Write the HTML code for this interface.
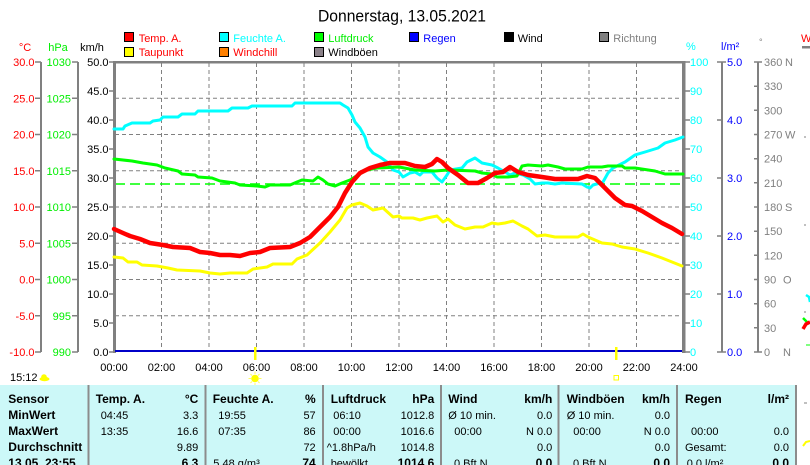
<!DOCTYPE html>
<html><head><meta charset="utf-8">
<style>
html,body{margin:0;padding:0;background:#fff;}
svg{display:block;}
text{font-family:"Liberation Sans",sans-serif;font-size:11px;}
.b{font-weight:bold;font-size:12px;}
</style></head>
<body>
<svg width="810" height="465" viewBox="0 0 810 465" xmlns="http://www.w3.org/2000/svg">
<rect width="810" height="465" fill="#fff"/>

<!-- title -->
<text x="318" y="21.5" font-size="16.5" textLength="168" lengthAdjust="spacingAndGlyphs" style="font-size:16.5px">Donnerstag, 13.05.2021</text>

<!-- legend -->
<g stroke="#000" stroke-width="1">
<rect x="124.5" y="32.5" width="9" height="9" fill="#ff0000"/>
<rect x="124.5" y="47.5" width="9" height="9" fill="#ffff00"/>
<rect x="219.5" y="32.5" width="9" height="9" fill="#00ffff"/>
<rect x="219.5" y="47.5" width="9" height="9" fill="#ff8000"/>
<rect x="314.5" y="32.5" width="9" height="9" fill="#00ff00"/>
<rect x="314.5" y="47.5" width="9" height="9" fill="#8a8088"/>
<rect x="409.5" y="32.5" width="9" height="9" fill="#0000ff"/>
<rect x="504.5" y="32.5" width="9" height="9" fill="#000000"/>
<rect x="599.5" y="32.5" width="9" height="9" fill="#808080"/>
</g>
<text x="138.7" y="42" fill="#ff0000">Temp. A.</text>
<text x="138.7" y="56" fill="#ff0000">Taupunkt</text>
<text x="233.3" y="42" fill="#00ffff">Feuchte A.</text>
<text x="233.3" y="56" fill="#ff0000">Windchill</text>
<text x="328.3" y="42" fill="#00ee00">Luftdruck</text>
<text x="328.3" y="56" fill="#000">Windböen</text>
<text x="423.3" y="42" fill="#0000ff">Regen</text>
<text x="517.7" y="42" fill="#000">Wind</text>
<text x="613.3" y="42" fill="#808080">Richtung</text>

<!-- unit labels -->
<text x="25" y="51" text-anchor="middle" fill="#ff0000">°C</text>
<text x="58" y="51" text-anchor="middle" fill="#00ee00">hPa</text>
<text x="92" y="51" text-anchor="middle" fill="#000">km/h</text>
<text x="686" y="50" fill="#00ffff">%</text>
<text x="721" y="50" fill="#0000ff">l/m²</text>
<text x="759" y="45" fill="#808080" style="font-size:9px">°</text>

<!-- grid -->
<g stroke="#808080" stroke-width="1" stroke-dasharray="4,3">
<line x1="115" y1="98.25" x2="682" y2="98.25"/>
<line x1="115" y1="134.5" x2="682" y2="134.5"/>
<line x1="115" y1="170.75" x2="682" y2="170.75"/>
<line x1="115" y1="207" x2="682" y2="207"/>
<line x1="115" y1="243.25" x2="682" y2="243.25"/>
<line x1="115" y1="279.5" x2="682" y2="279.5"/>
<line x1="115" y1="315.75" x2="682" y2="315.75"/>
<line x1="161.5" y1="63" x2="161.5" y2="352"/>
<line x1="209" y1="63" x2="209" y2="352"/>
<line x1="256.5" y1="63" x2="256.5" y2="352"/>
<line x1="304" y1="63" x2="304" y2="352"/>
<line x1="351.5" y1="63" x2="351.5" y2="352"/>
<line x1="399" y1="63" x2="399" y2="352"/>
<line x1="446.5" y1="63" x2="446.5" y2="352"/>
<line x1="494" y1="63" x2="494" y2="352"/>
<line x1="541.5" y1="63" x2="541.5" y2="352"/>
<line x1="589" y1="63" x2="589" y2="352"/>
<line x1="636.5" y1="63" x2="636.5" y2="352"/>
</g>
<line x1="115" y1="184" x2="682" y2="184" stroke="#00ff00" stroke-width="1.5" stroke-dasharray="10,5"/>

<!-- frame -->
<rect x="113" y="61" width="3" height="292" fill="#808080"/>
<rect x="113" y="61" width="572" height="2.5" fill="#808080"/>
<rect x="682" y="61" width="3.5" height="292" fill="#808080"/>

<!-- left axes -->
<g stroke="#808080" stroke-width="2">
<line x1="41" y1="62" x2="41" y2="352"/>
<line x1="78" y1="62" x2="78" y2="352"/>
</g>
<g stroke="#808080" stroke-width="1.5">
<path d="M35 62H41M35 98.25H41M35 134.5H41M35 170.75H41M35 207H41M35 243.25H41M35 279.5H41M35 315.75H41M35 352H41"/>
<path d="M72 62H78M72 98.25H78M72 134.5H78M72 170.75H78M72 207H78M72 243.25H78M72 279.5H78M72 315.75H78M72 352H78"/>
<path d="M109 62H114M109 91H114M109 120H114M109 149H114M109 178H114M109 207H114M109 236H114M109 265H114M109 294H114M109 323H114M109 352H114"/>
</g>
<g fill="#ff0000" text-anchor="end">
<text x="34.5" y="66">30.0</text><text x="34.5" y="102.25">25.0</text><text x="34.5" y="138.5">20.0</text>
<text x="34.5" y="174.75">15.0</text><text x="34.5" y="211">10.0</text><text x="34.5" y="247.25">5.0</text>
<text x="34.5" y="283.5">0.0</text><text x="34.5" y="319.75">-5.0</text><text x="34.5" y="356">-10.0</text>
</g>
<g fill="#00ee00" text-anchor="end">
<text x="71" y="66">1030</text><text x="71" y="102.25">1025</text><text x="71" y="138.5">1020</text>
<text x="71" y="174.75">1015</text><text x="71" y="211">1010</text><text x="71" y="247.25">1005</text>
<text x="71" y="283.5">1000</text><text x="71" y="319.75">995</text><text x="71" y="356">990</text>
</g>
<g fill="#000" text-anchor="end">
<text x="108.5" y="66">50.0</text><text x="108.5" y="95">45.0</text><text x="108.5" y="124">40.0</text>
<text x="108.5" y="153">35.0</text><text x="108.5" y="182">30.0</text><text x="108.5" y="211">25.0</text>
<text x="108.5" y="240">20.0</text><text x="108.5" y="269">15.0</text><text x="108.5" y="298">10.0</text>
<text x="108.5" y="327">5.0</text><text x="108.5" y="356">0.0</text>
</g>

<!-- right axes -->
<g stroke="#808080" stroke-width="1.5">
<path d="M685 62H690M685 91H690M685 120H690M685 149H690M685 178H690M685 207H690M685 236H690M685 265H690M685 294H690M685 323H690M685 352H690"/>
<path d="M717 62H726M717 120H722M717 178H722M717 236H722M717 294H722M717 352H726"/>
<path d="M754 62H762M754 86.2H758M754 110.3H758M754 134.5H758M754 158.7H758M754 182.8H758M754 207H758M754 231.2H758M754 255.3H758M754 279.5H758M754 303.7H758M754 327.8H758M754 352H762"/>
</g>
<g stroke="#808080" stroke-width="2">
<line x1="722" y1="62" x2="722" y2="352"/>
<line x1="758" y1="62" x2="758" y2="352"/>
</g>
<g fill="#00ffff">
<text x="690" y="66">100</text><text x="690" y="95">90</text><text x="690" y="124">80</text>
<text x="690" y="153">70</text><text x="690" y="182">60</text><text x="690" y="211">50</text>
<text x="690" y="240">40</text><text x="690" y="269">30</text><text x="690" y="298">20</text>
<text x="690" y="327">10</text><text x="690" y="356">0</text>
</g>
<g fill="#0000ff">
<text x="727" y="66">5.0</text><text x="727" y="124">4.0</text><text x="727" y="182">3.0</text>
<text x="727" y="240">2.0</text><text x="727" y="298">1.0</text><text x="727" y="356">0.0</text>
</g>
<g fill="#808080">
<text x="764" y="66">360</text><text x="785" y="66">N</text>
<text x="764" y="90.2">330</text>
<text x="764" y="114.3">300</text>
<text x="764" y="138.5">270</text><text x="785" y="138.5">W</text>
<text x="764" y="162.7">240</text>
<text x="764" y="186.8">210</text>
<text x="764" y="211">180</text><text x="785" y="211">S</text>
<text x="764" y="235.2">150</text>
<text x="764" y="259.3">120</text>
<text x="764" y="283.5">90</text><text x="783" y="283.5">O</text>
<text x="764" y="307.7">60</text>
<text x="764" y="331.8">30</text>
<text x="764" y="356">0</text><text x="783" y="356">N</text>
</g>

<!-- x labels -->
<g fill="#000" text-anchor="middle">
<text x="114" y="371">00:00</text><text x="161.5" y="371">02:00</text><text x="209" y="371">04:00</text>
<text x="256.5" y="371">06:00</text><text x="304" y="371">08:00</text><text x="351.5" y="371">10:00</text>
<text x="399" y="371">12:00</text><text x="446.5" y="371">14:00</text><text x="494" y="371">16:00</text>
<text x="541.5" y="371">18:00</text><text x="589" y="371">20:00</text><text x="636.5" y="371">22:00</text>
<text x="684" y="371">24:00</text>
</g>

<!-- series -->
<line x1="115" y1="351" x2="682" y2="351" stroke="#0000c8" stroke-width="2"/>
<g fill="none" stroke-linejoin="round" stroke-linecap="round">
<polyline stroke="#00ffff" stroke-width="3" points="114,129 123,129 125,126 132,123 150,123 153,121 160,120 163,117 178,117 182,114 195,114 198,111 228,111 232,108 248,108 252,106 292,106 295,103 340,103 343,105 348,108 352,115 355,122 360,128 365,137 368,147 373,153 380,157 387,162 393,170 399,172 403,177 410,173 415,172 420,175 423,172 432,172 437,178 442,182 447,175 450,170 462,168 467,162 475,158 482,163 492,165 498,168 505,172 510,175 515,173 523,175 530,179 535,184 542,183 548,183 555,184 562,183 582,184 587,187 590,188 593,185 600,183 603,182 608,173 613,168 625,162 635,155 645,152 658,148 665,143 675,140 683,137"/>
<polyline stroke="#00ff00" stroke-width="3" points="114,159 132,161 143,163 157,165 165,168 178,171 182,174 195,175 198,177 212,178 220,181 235,183 240,185 257,186 265,187 270,185 290,185 297,182 302,180 313,181 318,177 323,180 328,184 335,186 342,183 350,180 358,175 367,170 377,168 399,167 415,170 435,171 448,170 475,171 482,173 492,174 497,177 508,177 517,176 522,166 528,165 542,166 548,165 558,167 565,169 582,169 588,167 602,167 608,166 622,166 625,168 635,168 655,171 665,174 683,174"/>
<polyline stroke="#ffff00" stroke-width="3" points="114,257 123,258 128,262 137,262 142,265 157,266 168,268 177,270 200,271 210,273 220,274 230,273 247,273 253,269 267,267 273,264 292,264 297,259 307,255 320,243 330,232 340,220 347,208 352,205 360,203 367,206 373,210 383,208 393,217 399,216 402,218 413,218 420,220 427,218 437,216 443,222 448,219 455,225 465,229 475,227 483,227 492,223 498,224 505,223 513,221 522,226 528,229 537,236 545,235 555,237 578,237 583,234 588,237 602,243 612,244 622,247 635,249 648,253 662,258 682,266"/>
<polyline stroke="#ff0000" stroke-width="4.5" points="114,229 123,233 130,236 140,239 150,243 163,245 173,247 190,248 200,252 210,253 220,255 230,255 240,256 250,253 260,252 270,248 290,247 300,243 310,237 320,227 330,217 338,207 345,193 352,182 360,173 370,168 380,165 390,163 399,163 405,163 415,166 425,167 432,164 437,159 442,162 448,168 458,175 468,183 478,183 487,178 495,173 503,172 510,167 518,172 528,175 542,177 555,179 578,179 587,176 595,178 605,188 615,198 625,205 632,206 642,211 652,217 662,223 672,228 682,234"/>
</g>

<!-- sun markers -->
<rect x="254" y="347" width="2.5" height="13" fill="#ffff00"/>
<rect x="615" y="347" width="2.5" height="13" fill="#ffff00"/>
<g stroke="#ffff60" stroke-width="1">
<path d="M255 371.5V374M255 383V385.5M248.5 378.5H251M259 378.5H261.5M250.5 374L252 375.5M259.5 374L258 375.5M250.5 383L252 381.5M259.5 383L258 381.5"/>
</g>
<circle cx="255" cy="378.5" r="3.8" fill="#ffff00"/>
<rect x="614" y="375.5" width="4.5" height="4.5" fill="none" stroke="#ffff00" stroke-width="1"/>
<text x="10" y="381">15:12</text>
<ellipse cx="44.5" cy="379" rx="5" ry="2.2" fill="#ffff00"/>
<circle cx="44" cy="377" r="2.8" fill="#ffff00"/>

<!-- far right clipped pieces -->
<text x="801" y="42" fill="#ff0000">W</text>
<rect x="802" y="46" width="8" height="2.5" fill="#808080"/>
<g stroke="#808080" stroke-width="1">
<path d="M804 137H806M804 225H806M804 312H806M804 403H807"/>
</g>
<path d="M806 295L809 297L810 302" fill="none" stroke="#00ffff" stroke-width="2.5"/>
<path d="M803 318L807 322" stroke="#00ff00" stroke-width="2.5"/>
<path d="M803 329L806 324L810 322" fill="none" stroke="#ff0000" stroke-width="3.5"/>
<path d="M806 345H810" stroke="#00ff00" stroke-width="1"/>
<path d="M803 446L806 442L810 441" fill="none" stroke="#ffff00" stroke-width="2"/>

<!-- table -->
<rect x="0" y="385" width="795" height="80" fill="#ccf8f8"/>
<g fill="#8c8c8c">
<rect x="87.5" y="385" width="2" height="80"/>
<rect x="204.5" y="385" width="2" height="80"/>
<rect x="322" y="385" width="2" height="80"/>
<rect x="440" y="385" width="2" height="80"/>
<rect x="557.5" y="385" width="2" height="80"/>
<rect x="676" y="385" width="2" height="80"/>
<rect x="795" y="385" width="2" height="80"/>
</g>
<g fill="#000">
<text class="b" x="8.3" y="403">Sensor</text>
<text class="b" x="8.3" y="419">MinWert</text>
<text class="b" x="8.3" y="435">MaxWert</text>
<text class="b" x="8.3" y="451">Durchschnitt</text>
<text class="b" x="8.3" y="467">13.05. 23:55</text>

<text class="b" x="95.7" y="403">Temp. A.</text>
<text class="b" x="198.3" y="403" text-anchor="end">°C</text>
<text x="100.7" y="419">04:45</text><text x="198.3" y="419" text-anchor="end">3.3</text>
<text x="100.7" y="435">13:35</text><text x="198.3" y="435" text-anchor="end">16.6</text>
<text x="198.3" y="451" text-anchor="end">9.89</text>
<text class="b" x="198.3" y="467" text-anchor="end">6.3</text>

<text class="b" x="212.7" y="403">Feuchte A.</text>
<text class="b" x="315.7" y="403" text-anchor="end">%</text>
<text x="218.3" y="419">19:55</text><text x="315.7" y="419" text-anchor="end">57</text>
<text x="218.3" y="435">07:35</text><text x="315.7" y="435" text-anchor="end">86</text>
<text x="315.7" y="451" text-anchor="end">72</text>
<text x="213.3" y="467">5.48 g/m³</text>
<text class="b" x="315.7" y="467" text-anchor="end">74</text>

<text class="b" x="330.7" y="403">Luftdruck</text>
<text class="b" x="434.3" y="403" text-anchor="end">hPa</text>
<text x="333.3" y="419">06:10</text><text x="434.3" y="419" text-anchor="end">1012.8</text>
<text x="333.3" y="435">00:00</text><text x="434.3" y="435" text-anchor="end">1016.6</text>
<text x="326.7" y="451">^1.8hPa/h</text><text x="434.3" y="451" text-anchor="end">1014.8</text>
<text x="330.7" y="467">bewölkt</text>
<text class="b" x="434.3" y="467" text-anchor="end">1014.6</text>

<text class="b" x="448.3" y="403">Wind</text>
<text class="b" x="552.3" y="403" text-anchor="end">km/h</text>
<text x="448.3" y="419">Ø 10 min.</text><text x="552.3" y="419" text-anchor="end">0.0</text>
<text x="454.3" y="435">00:00</text><text x="552.3" y="435" text-anchor="end">N 0.0</text>
<text x="552.3" y="451" text-anchor="end">0.0</text>
<text x="454" y="467">0 Bft N</text>
<text class="b" x="552.3" y="467" text-anchor="end">0.0</text>

<text class="b" x="566.7" y="403">Windböen</text>
<text class="b" x="670" y="403" text-anchor="end">km/h</text>
<text x="566.7" y="419">Ø 10 min.</text><text x="670" y="419" text-anchor="end">0.0</text>
<text x="573.3" y="435">00:00</text><text x="670" y="435" text-anchor="end">N 0.0</text>
<text x="670" y="451" text-anchor="end">0.0</text>
<text x="573" y="467">0 Bft N</text>
<text class="b" x="670" y="467" text-anchor="end">0.0</text>

<text class="b" x="685" y="403">Regen</text>
<text class="b" x="789" y="403" text-anchor="end">l/m²</text>
<text x="691" y="435">00:00</text><text x="789" y="435" text-anchor="end">0.0</text>
<text x="685" y="451">Gesamt:</text><text x="789" y="451" text-anchor="end">0.0</text>
<text x="686.7" y="467">0.0 l/m²</text>
<text class="b" x="789" y="467" text-anchor="end">0.0</text>
</g>
</svg>
</body></html>
